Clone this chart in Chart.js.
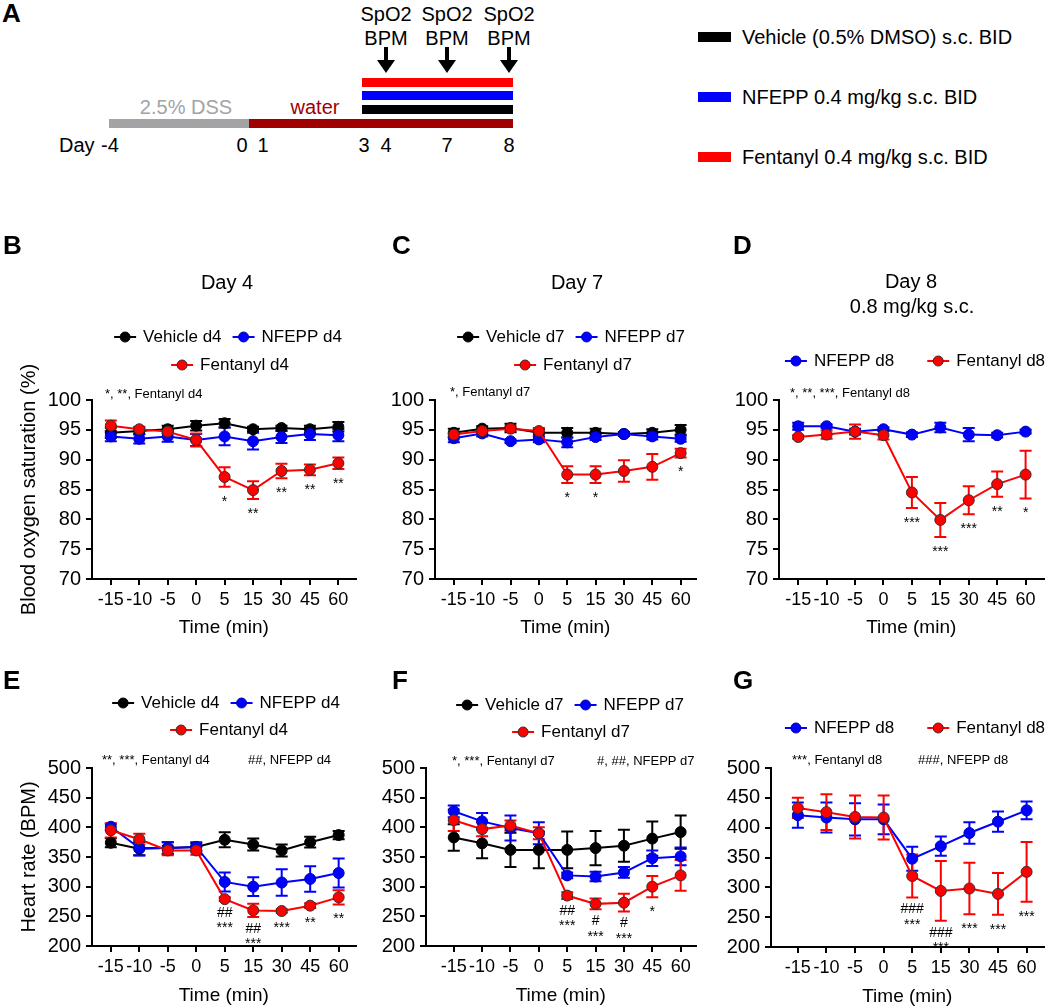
<!DOCTYPE html>
<html>
<head>
<meta charset="utf-8">
<script src="https://cdn.jsdelivr.net/npm/chart.js@4.4.1/dist/chart.umd.min.js"></script>
<style>
html, body { margin: 0; padding: 0; background: #fff; }
body { width: 1050px; height: 1007px; position: relative; overflow: hidden;
       font-family: "Liberation Sans", Arial, Helvetica, sans-serif; color: #000; }
.abs { position: absolute; white-space: nowrap; }
.c { text-align: center; width: 200px; }
canvas { position: absolute; }
</style>
</head>
<body>

<!-- panel A: study schematic -->
<div class="abs" style="left:2px;top:0;font:bold 26px/26px 'Liberation Sans',Arial;">A</div>

<div class="abs c" style="left:286px;top:4px;font-size:20px;line-height:20px;">SpO2</div>
<div class="abs c" style="left:286px;top:28px;font-size:20px;line-height:20px;">BPM</div>
<div class="abs c" style="left:347px;top:4px;font-size:20px;line-height:20px;">SpO2</div>
<div class="abs c" style="left:347px;top:28px;font-size:20px;line-height:20px;">BPM</div>
<div class="abs c" style="left:409px;top:4px;font-size:20px;line-height:20px;">SpO2</div>
<div class="abs c" style="left:409px;top:28px;font-size:20px;line-height:20px;">BPM</div>

<div class="abs" style="left:384px;top:47px;width:4px;height:14px;background:#000;"></div>
<div class="abs" style="left:377px;top:60px;width:0;height:0;border-left:9px solid transparent;border-right:9px solid transparent;border-top:13px solid #000;"></div>
<div class="abs" style="left:445px;top:47px;width:4px;height:14px;background:#000;"></div>
<div class="abs" style="left:438px;top:60px;width:0;height:0;border-left:9px solid transparent;border-right:9px solid transparent;border-top:13px solid #000;"></div>
<div class="abs" style="left:507px;top:47px;width:4px;height:14px;background:#000;"></div>
<div class="abs" style="left:500px;top:60px;width:0;height:0;border-left:9px solid transparent;border-right:9px solid transparent;border-top:13px solid #000;"></div>

<div class="abs" style="left:362px;top:78px;width:151px;height:9px;background:#ff0000;"></div>
<div class="abs" style="left:362px;top:91px;width:151px;height:9px;background:#0000ff;"></div>
<div class="abs" style="left:362px;top:105px;width:151px;height:9px;background:#000;"></div>

<div class="abs c" style="left:86px;top:97px;font-size:20px;line-height:20px;color:#a3a3a6;">2.5% DSS</div>
<div class="abs c" style="left:215px;top:97px;font-size:20px;line-height:20px;color:#a00000;">water</div>
<div class="abs" style="left:109px;top:119px;width:140px;height:9px;background:#a3a3a6;"></div>
<div class="abs" style="left:249px;top:119px;width:264px;height:9px;background:#a00000;"></div>

<div class="abs" style="left:59px;top:135px;font-size:20px;line-height:20px;">Day</div>
<div class="abs c" style="left:10px;top:135px;font-size:20px;line-height:20px;">-4</div>
<div class="abs c" style="left:142px;top:135px;font-size:20px;line-height:20px;">0</div>
<div class="abs c" style="left:163px;top:135px;font-size:20px;line-height:20px;">1</div>
<div class="abs c" style="left:264px;top:135px;font-size:20px;line-height:20px;">3</div>
<div class="abs c" style="left:286px;top:135px;font-size:20px;line-height:20px;">4</div>
<div class="abs c" style="left:347px;top:135px;font-size:20px;line-height:20px;">7</div>
<div class="abs c" style="left:409px;top:135px;font-size:20px;line-height:20px;">8</div>

<div class="abs" style="left:698px;top:32px;width:33px;height:10px;background:#000;"></div>
<div class="abs" style="left:742px;top:27px;font-size:20px;line-height:20px;">Vehicle (0.5% DMSO) s.c. BID</div>
<div class="abs" style="left:698px;top:92px;width:33px;height:10px;background:#0000ff;"></div>
<div class="abs" style="left:742px;top:87px;font-size:20px;line-height:20px;">NFEPP 0.4 mg/kg s.c. BID</div>
<div class="abs" style="left:698px;top:152px;width:33px;height:10px;background:#ff0000;"></div>
<div class="abs" style="left:742px;top:147px;font-size:20px;line-height:20px;">Fentanyl 0.4 mg/kg s.c. BID</div>

<script>
const FONT = '"Liberation Sans", Arial, Helvetica, sans-serif';
Chart.defaults.font.family = FONT;
Chart.defaults.color = '#000';

const timeLabels = ['-15', '-10', '-5', '0', '5', '15', '30', '45', '60'];

// blood oxygen saturation (%), day 4
const spo2D4Vehicle = [94.5, 94.8, 95.1, 95.7, 96.1, 95.1, 95.3, 95.1, 95.5];
const spo2D4VehicleSem = [0.85, 0.6, 0.6, 0.8, 0.7, 0.4, 0.4, 0.6, 0.8];
const spo2D4Nfepp = [93.9, 93.5, 93.9, 93.3, 93.9, 93.1, 93.8, 94.3, 94.1];
const spo2D4NfeppSem = [0.8, 0.8, 0.9, 1.0, 1.5, 1.4, 1.0, 1.0, 1.0];
const spo2D4Fentanyl = [95.7, 95.1, 94.7, 93.3, 87.1, 84.9, 88.1, 88.3, 89.4];
const spo2D4FentanylSem = [0.85, 0.4, 0.3, 1.1, 1.65, 1.5, 1.2, 0.9, 0.95];
const spo2D4Marks = ['', '', '', '', '*', '**', '**', '**', '**'];

// blood oxygen saturation (%), day 7
const spo2D7Vehicle = [94.5, 95.2, 95.3, 94.5, 94.5, 94.5, 94.3, 94.5, 95.0];
const spo2D7VehicleSem = [0.7, 0.4, 0.7, 0.6, 0.8, 0.7, 0.3, 0.6, 0.8];
const spo2D7Nfepp = [93.6, 94.4, 93.1, 93.4, 92.9, 93.8, 94.3, 93.9, 93.5];
const spo2D7NfeppSem = [0.7, 0.5, 0.3, 0.5, 0.8, 0.5, 0.3, 0.5, 0.5];
const spo2D7Fentanyl = [94.2, 94.8, 95.2, 94.8, 87.5, 87.5, 88.1, 88.8, 91.1];
const spo2D7FentanylSem = [0.4, 0.3, 0.4, 0.5, 1.4, 1.4, 1.8, 2.15, 0.75];
const spo2D7Marks = ['', '', '', '', '*', '*', '', '', '*'];

// blood oxygen saturation (%), day 8
const spo2D8Nfepp = [95.6, 95.6, 94.7, 95.1, 94.2, 95.4, 94.2, 94.1, 94.7];
const spo2D8NfeppSem = [0.6, 0.3, 0.5, 0.3, 0.4, 0.8, 1.1, 0.4, 0.3];
const spo2D8Fentanyl = [93.8, 94.2, 94.7, 94.1, 84.5, 79.9, 83.2, 85.9, 87.5];
const spo2D8FentanylSem = [0.3, 0.7, 1.2, 0.7, 2.6, 2.85, 2.35, 2.1, 4.0];
const spo2D8Marks = ['', '', '', '', '***', '***', '***', '**', '*'];

// heart rate (BPM), day 4
const hrD4Vehicle = [374, 364, 365, 367, 379, 371, 361, 375, 387];
const hrD4VehicleSem = [7.6, 11, 10, 6, 12.6, 10, 10, 9, 7];
const hrD4Nfepp = [401, 365, 365, 367, 308, 300, 307, 313, 323];
const hrD4NfeppSem = [5, 12.6, 10, 8, 16, 15.7, 22.4, 21.6, 24.4];
const hrD4Fentanyl = [395, 380, 361, 361, 279, 260, 259, 268, 282];
const hrD4FentanylSem = [12, 9, 8, 7, 3, 11, 3, 4, 12];
const hrD4Marks = ['', '', '', '', '##\n***', '##\n***', '***', '**', '**'];

// heart rate (BPM), day 7
const hrD7Vehicle = [383, 373, 362, 362, 362, 365, 369, 381, 392];
const hrD7VehicleSem = [22.4, 25, 29, 31, 31, 29, 27, 29, 28];
const hrD7Nfepp = [427, 410, 399, 390, 319, 317, 324, 348, 351];
const hrD7NfeppSem = [10, 14, 21, 18.5, 5, 8, 9, 13, 15];
const hrD7Fentanyl = [412, 397, 403, 390, 285, 271, 273, 300, 319];
const hrD7FentanylSem = [18, 12, 8.5, 10, 5.6, 9, 15, 18, 26];
const hrD7Marks = ['', '', '', '', '##\n***', '#\n***', '#\n***', '*', ''];

// heart rate (BPM), day 8
const hrD8Nfepp = [421, 417, 414, 414, 348, 369, 391, 410, 429];
const hrD8NfeppSem = [21, 25, 27, 25, 20, 16, 18, 17, 15];
const hrD8Fentanyl = [433, 426, 418, 417, 319, 294, 298, 289, 326];
const hrD8FentanylSem = [17, 30, 36, 37, 36, 50, 43, 35, 50];
const hrD8Marks = ['', '', '', '', '###\n***', '###\n***', '***', '***', '***'];

const BLACK = '#000000';
const BLUE = '#0000ff';
const RED = '#ff0000';

function series (label, color, edge, values, sem, order) {
    return {
        label,
        data: values.map((y, i) => ({ x: i, y })),
        sem,
        order,
        borderColor: color,
        backgroundColor: color,
        borderWidth: 2,
        pointRadius: 5.5,
        pointHoverRadius: 5.5,
        pointBorderWidth: 1,
        pointBorderColor: edge,
        pointBackgroundColor: color,
        tension: 0
    };
}

const errorBars = {
    id: 'errorBars',
    beforeDatasetsDraw (chart) {
        const ctx = chart.ctx;
        const xs = chart.scales.x;
        const ys = chart.scales.y;
        const sets = chart.data.datasets.map((ds, i) => i).sort((a, b) => chart.data.datasets[b].order - chart.data.datasets[a].order);
        sets.forEach(idx => {
            const ds = chart.data.datasets[idx];
            ctx.save();
            ctx.strokeStyle = ds.borderColor;
            ctx.lineWidth = 2;
            ds.data.forEach((p, i) => {
                const e = ds.sem[i];
                if (!e) return;
                const px = xs.getPixelForValue(p.x);
                const top = ys.getPixelForValue(p.y + e);
                const bot = ys.getPixelForValue(p.y - e);
                ctx.beginPath();
                ctx.moveTo(px, top); ctx.lineTo(px, bot);
                ctx.moveTo(px - 6, top); ctx.lineTo(px + 6, top);
                ctx.moveTo(px - 6, bot); ctx.lineTo(px + 6, bot);
                ctx.stroke();
            });
            ctx.restore();
        });
    }
};

const decor = {
    id: 'decor',
    afterDraw (chart, args, opts) {
        const ctx = chart.ctx;
        const ox = opts.ox;
        const oy = opts.oy;
        ctx.save();
        ctx.fillStyle = '#000';
        ctx.textBaseline = 'middle';

        ctx.font = `bold 26px ${FONT}`;
        ctx.textAlign = 'left';
        ctx.fillText(opts.letter.text, opts.letter.x - ox, opts.letter.y - oy);

        ctx.font = `20px ${FONT}`;
        ctx.textAlign = 'center';
        (opts.titles || []).forEach(t => ctx.fillText(t.text, t.x - ox, t.y - oy));

        // legend: line with a dot, then the label
        ctx.font = `17px ${FONT}`;
        ctx.textAlign = 'left';
        opts.legendRows.forEach(row => {
            const widths = row.items.map(i => 22 + 7 + ctx.measureText(chart.data.datasets[i].label).width);
            const total = widths.reduce((s, w) => s + w, 0) + row.gap * (row.items.length - 1);
            let x = row.cx - total / 2 - ox;
            const y = row.y - oy;
            row.items.forEach((i, k) => {
                const ds = chart.data.datasets[i];
                ctx.strokeStyle = ds.borderColor;
                ctx.lineWidth = 2;
                ctx.beginPath(); ctx.moveTo(x, y); ctx.lineTo(x + 22, y); ctx.stroke();
                ctx.beginPath(); ctx.arc(x + 11, y, 5, 0, Math.PI * 2);
                ctx.fillStyle = ds.pointBackgroundColor; ctx.fill();
                ctx.lineWidth = 1; ctx.strokeStyle = ds.pointBorderColor; ctx.stroke();
                ctx.fillStyle = '#000';
                ctx.fillText(ds.label, x + 29, y);
                x += widths[k] + row.gap;
            });
        });

        ctx.font = `13px ${FONT}`;
        opts.notes.forEach(n => ctx.fillText(n.text, n.x - ox, n.y - oy));

        // significance marks under a series
        const m = opts.marks;
        const ds = chart.data.datasets[m.ds];
        const xs = chart.scales.x;
        const ys = chart.scales.y;
        ctx.font = `14px ${FONT}`;
        ctx.textAlign = 'center';
        m.text.forEach((t, i) => {
            if (!t) return;
            const px = xs.getPixelForValue(i);
            const bot = ys.getPixelForValue(ds.data[i].y - ds.sem[i]);
            t.split('\n').forEach((line, k) => {
                const vy = bot + 12 + 12.5 * k;
                ctx.fillText(line, px, vy + (line[0] === '*' ? 3 : 0));
            });
        });
        ctx.restore();
    }
};

function buildPanel (p) {
    const c = p.canvas;
    const a = p.area;
    const el = document.createElement('canvas');
    el.width = c.w;
    el.height = c.h;
    el.style.left = c.left + 'px';
    el.style.top = c.top + 'px';
    document.body.appendChild(el);

    const step = (p.lastTick - p.firstTick) / (timeLabels.length - 1);
    const xMin = -(p.firstTick - a.left) / step;
    const xMax = timeLabels.length - 1 + (a.right - p.lastTick) / step;
    const axisLine = { color: '#000', width: 2 };
    const tickGrid = { drawOnChartArea: false, drawTicks: true, tickLength: 6, color: '#000', lineWidth: 2 };

    return new Chart(el, {
        type: 'line',
        data: { datasets: p.datasets },
        plugins: [errorBars, decor],
        options: {
            responsive: false,
            animation: false,
            events: [],
            layout: {
                padding: {
                    left: 0,
                    top: a.top - c.top,
                    right: c.left + c.w - a.right,
                    bottom: c.top + c.h - a.bottom - p.xH
                }
            },
            plugins: {
                legend: { display: false },
                tooltip: { enabled: false },
                decor: Object.assign({ ox: c.left, oy: c.top }, p.decor)
            },
            scales: {
                x: {
                    type: 'linear',
                    min: xMin,
                    max: xMax,
                    afterBuildTicks: s => { s.ticks = timeLabels.map((t, i) => ({ value: i })); },
                    afterFit: s => { s.height = p.xH; s.paddingLeft = 0; s.paddingRight = 0; },
                    ticks: {
                        font: { size: 18 },
                        color: '#000',
                        padding: 4,
                        autoSkip: false,
                        maxRotation: 0,
                        callback: v => timeLabels[v]
                    },
                    grid: tickGrid,
                    border: axisLine,
                    title: {
                        display: true,
                        text: 'Time (min)',
                        font: { size: 19 },
                        color: '#000',
                        padding: { top: 0, bottom: p.xTitlePad }
                    }
                },
                y: {
                    min: p.yMin,
                    max: p.yMax,
                    afterFit: s => { s.width = a.left - c.left; s.paddingTop = 0; s.paddingBottom = 0; },
                    ticks: { stepSize: p.yStep, font: { size: 20 }, color: '#000', padding: 5 },
                    grid: tickGrid,
                    border: axisLine,
                    title: {
                        display: !!p.yTitle,
                        text: p.yTitle || '',
                        font: { size: 20 },
                        color: '#000',
                        padding: { top: 17, bottom: 0 }
                    }
                }
            }
        }
    });
}

const row1 = { top: 225, h: 420, xH: 64, xTitlePad: 4, yMin: 70, yMax: 100, yStep: 5 };
const row2 = { top: 650, h: 357, xH: 61, xTitlePad: 0, yMin: 200, yMax: 500, yStep: 50 };

// B
buildPanel(Object.assign({}, row1, {
    canvas: { left: 0, top: row1.top, w: 362, h: row1.h },
    area: { left: 92, right: 358, top: 400, bottom: 579 },
    firstTick: 111, lastTick: 340.7,
    yTitle: 'Blood oxygen saturation (%)',
    datasets: [
        series('Vehicle d4', BLACK, BLACK, spo2D4Vehicle, spo2D4VehicleSem, 2),
        series('NFEPP d4', BLUE, '#0000b0', spo2D4Nfepp, spo2D4NfeppSem, 1),
        series('Fentanyl d4', RED, '#303030', spo2D4Fentanyl, spo2D4FentanylSem, 0)
    ],
    decor: {
        letter: { text: 'B', x: 3, y: 247 },
        titles: [{ text: 'Day 4', x: 227, y: 283 }],
        legendRows: [{ y: 337, cx: 228, gap: 11, items: [0, 1] }, { y: 365, cx: 230, gap: 11, items: [2] }],
        notes: [{ text: '*, **, Fentanyl d4', x: 105, y: 394 }],
        marks: { ds: 2, text: spo2D4Marks }
    }
}));

// C
buildPanel(Object.assign({}, row1, {
    canvas: { left: 362, top: row1.top, w: 340, h: row1.h },
    area: { left: 435, right: 698, top: 400, bottom: 579 },
    firstTick: 454, lastTick: 683,
    datasets: [
        series('Vehicle d7', BLACK, BLACK, spo2D7Vehicle, spo2D7VehicleSem, 2),
        series('NFEPP d7', BLUE, '#0000b0', spo2D7Nfepp, spo2D7NfeppSem, 1),
        series('Fentanyl d7', RED, '#303030', spo2D7Fentanyl, spo2D7FentanylSem, 0)
    ],
    decor: {
        letter: { text: 'C', x: 392, y: 247 },
        titles: [{ text: 'Day 7', x: 577, y: 283 }],
        legendRows: [{ y: 337, cx: 571, gap: 11, items: [0, 1] }, { y: 365, cx: 573, gap: 11, items: [2] }],
        notes: [{ text: '*, Fentanyl d7', x: 450, y: 392 }],
        marks: { ds: 2, text: spo2D7Marks }
    }
}));

// D
buildPanel(Object.assign({}, row1, {
    canvas: { left: 702, top: row1.top, w: 348, h: row1.h },
    area: { left: 779, right: 1045, top: 400, bottom: 579 },
    firstTick: 798.3, lastTick: 1027,
    datasets: [
        series('NFEPP d8', BLUE, '#0000b0', spo2D8Nfepp, spo2D8NfeppSem, 1),
        series('Fentanyl d8', RED, '#303030', spo2D8Fentanyl, spo2D8FentanylSem, 0)
    ],
    decor: {
        letter: { text: 'D', x: 733, y: 247 },
        titles: [{ text: 'Day 8', x: 911, y: 282 }, { text: '0.8 mg/kg s.c.', x: 912, y: 307 }],
        legendRows: [{ y: 361, cx: 915, gap: 33, items: [0, 1] }],
        notes: [{ text: '*, **, ***, Fentanyl d8', x: 790, y: 393 }],
        marks: { ds: 1, text: spo2D8Marks }
    }
}));

// E
buildPanel(Object.assign({}, row2, {
    canvas: { left: 0, top: row2.top, w: 362, h: row2.h },
    area: { left: 92, right: 358, top: 768, bottom: 946 },
    firstTick: 111, lastTick: 341,
    yTitle: 'Heart rate (BPM)',
    datasets: [
        series('Vehicle d4', BLACK, BLACK, hrD4Vehicle, hrD4VehicleSem, 2),
        series('NFEPP d4', BLUE, '#0000b0', hrD4Nfepp, hrD4NfeppSem, 1),
        series('Fentanyl d4', RED, '#303030', hrD4Fentanyl, hrD4FentanylSem, 0)
    ],
    decor: {
        letter: { text: 'E', x: 3, y: 682 },
        legendRows: [{ y: 703, cx: 226, gap: 11, items: [0, 1] }, { y: 730, cx: 229, gap: 11, items: [2] }],
        notes: [{ text: '**, ***, Fentanyl d4', x: 102, y: 760 }, { text: '##, NFEPP d4', x: 248, y: 760 }],
        marks: { ds: 2, text: hrD4Marks }
    }
}));

// F
buildPanel(Object.assign({}, row2, {
    canvas: { left: 362, top: row2.top, w: 340, h: row2.h },
    area: { left: 426, right: 698, top: 768, bottom: 946 },
    firstTick: 454, lastTick: 683,
    datasets: [
        series('Vehicle d7', BLACK, BLACK, hrD7Vehicle, hrD7VehicleSem, 2),
        series('NFEPP d7', BLUE, '#0000b0', hrD7Nfepp, hrD7NfeppSem, 1),
        series('Fentanyl d7', RED, '#303030', hrD7Fentanyl, hrD7FentanylSem, 0)
    ],
    decor: {
        letter: { text: 'F', x: 392, y: 682 },
        legendRows: [{ y: 705, cx: 570, gap: 11, items: [0, 1] }, { y: 732, cx: 571, gap: 11, items: [2] }],
        notes: [{ text: '*, ***, Fentanyl d7', x: 452, y: 761 }, { text: '#, ##, NFEPP d7', x: 597, y: 761 }],
        marks: { ds: 2, text: hrD7Marks }
    }
}));

// G
buildPanel(Object.assign({}, row2, {
    canvas: { left: 702, top: row2.top, w: 348, h: row2.h },
    area: { left: 771, right: 1045, top: 768, bottom: 947 },
    firstTick: 798, lastTick: 1028,
    datasets: [
        series('NFEPP d8', BLUE, '#0000b0', hrD8Nfepp, hrD8NfeppSem, 1),
        series('Fentanyl d8', RED, '#303030', hrD8Fentanyl, hrD8FentanylSem, 0)
    ],
    decor: {
        letter: { text: 'G', x: 733, y: 682 },
        legendRows: [{ y: 728, cx: 915, gap: 33, items: [0, 1] }],
        notes: [{ text: '***, Fentanyl d8', x: 792, y: 760 }, { text: '###, NFEPP d8', x: 918, y: 760 }],
        marks: { ds: 1, text: hrD8Marks }
    }
}));
</script>
</body>
</html>
